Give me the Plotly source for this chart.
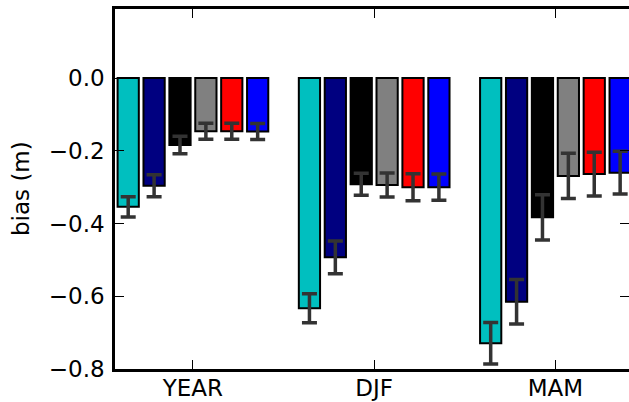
import plotly.graph_objects as go

categories = ["YEAR", "DJF", "MAM"]
series_names = ["s1", "s2", "s3", "s4", "s5", "s6"]
series_colors = ["#00BFBF", "#000080", "#000000", "#808080", "#FF0000", "#0000FF"]
bias_s1 = [-0.354, -0.633, -0.729]
bias_s2 = [-0.296, -0.493, -0.615]
bias_s3 = [-0.184, -0.292, -0.383]
bias_s4 = [-0.146, -0.294, -0.269]
bias_s5 = [-0.146, -0.300, -0.264]
bias_s6 = [-0.147, -0.300, -0.260]
err_s1 = [0.028, 0.040, 0.057]
err_s2 = [0.030, 0.045, 0.061]
err_s3 = [0.024, 0.030, 0.062]
err_s4 = [0.022, 0.033, 0.062]
err_s5 = [0.022, 0.037, 0.060]
err_s6 = [0.022, 0.036, 0.059]
y_ticks = [0.0, -0.2, -0.4, -0.6, -0.8]
y_tick_labels = ["0.0", "\u22120.2", "\u22120.4", "\u22120.6", "\u22120.8"]
y_title = "bias (m)"

values = [bias_s1, bias_s2, bias_s3, bias_s4, bias_s5, bias_s6]
errors = [err_s1, err_s2, err_s3, err_s4, err_s5, err_s6]

fig = go.Figure()
for name, col, v, e in zip(series_names, series_colors, values, errors):
    fig.add_trace(go.Bar(
        x=categories, y=v, name=name,
        marker=dict(color=col, line=dict(color="black", width=2)),
        error_y=dict(type="data", array=e, visible=True,
                     color="#333333", thickness=3.5, width=7.5),
        showlegend=False,
    ))

# invisible trace to host the right-side tick axis
fig.add_trace(go.Scatter(x=categories, y=[None] * len(categories), yaxis="y2",
                         showlegend=False, hoverinfo="skip", mode="markers"))

font = dict(family="DejaVu Sans", size=23, color="black")
L, R, T, B = 115, 0, 9, 33
W, H = 629, 402
fig.update_layout(
    width=W, height=H,
    margin=dict(l=L, r=R, t=T, b=B, autoexpand=False),
    paper_bgcolor="white", plot_bgcolor="white",
    barmode="group", bargap=1/7, bargroupgap=0.18,
    font=font,
    xaxis=dict(
        type="category", range=[-0.43, 2.406], automargin=False,
        showline=True, linecolor="black", linewidth=2.5, mirror="ticks",
        ticks="inside", ticklen=9, tickwidth=1, tickcolor="black",
        showgrid=False, zeroline=False, tickfont=font, ticklabelstandoff=-3,
    ),
    yaxis=dict(
        range=[-0.8, 0.19], tickvals=y_ticks, ticktext=y_tick_labels,
        automargin=False,
        showline=True, linecolor="black", linewidth=2.5, mirror=False,
        ticks="inside", ticklen=9, tickwidth=1, tickcolor="black",
        showgrid=False, zeroline=False, tickfont=font, ticklabelstandoff=3,
    ),
    yaxis2=dict(
        overlaying="y", side="right", range=[-0.8, 0.19], tickvals=y_ticks,
        showticklabels=False, showline=False, ticks="inside", ticklen=9,
        tickwidth=1, tickcolor="black", showgrid=False, zeroline=False,
        automargin=False,
    ),
    annotations=[dict(
        text=y_title, xref="paper", yref="paper",
        x=(21 - L) / (W - L - R), y=0.5, xanchor="center", yanchor="middle",
        textangle=-90, showarrow=False, font=font,
    )],
)

fig.write_html(
    "out.html",
    config={"displayModeBar": False},
    post_script="document.body.style.margin='0';document.body.style.padding='0';"
                "document.body.style.overflow='hidden';",
)
